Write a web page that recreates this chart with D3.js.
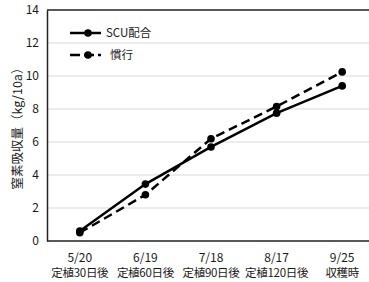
<!DOCTYPE html>
<html>
<head>
<meta charset="utf-8">
<script src="https://cdn.jsdelivr.net/npm/d3@7"></script>
<style>
  body { margin: 0; background: #fff; }
  text { font-family: "Liberation Sans Narrow", "Noto Sans CJK JP", sans-serif; fill: #1a1a1a; }
</style>
</head>
<body>
<script>
var dates = ["5/20", "6/19", "7/18", "8/17", "9/25"];
var stages = ["定植30日後", "定植60日後", "定植90日後", "定植120日後", "収穫時"];
var scuValues = [0.6, 3.45, 5.7, 7.75, 9.4];
var kankoValues = [0.5, 2.8, 6.2, 8.15, 10.25];
var yTicks = [0, 2, 4, 6, 8, 10, 12, 14];

var width = 369, height = 282;
var margin = {top: 10, right: -6, bottom: 41, left: 47};

var svg = d3.select("body").append("svg")
    .attr("width", width)
    .attr("height", height);

var x = d3.scalePoint()
    .domain(dates)
    .range([margin.left, width - margin.right])
    .padding(0.5);

var y = d3.scaleLinear()
    .domain([0, 14])
    .range([height - margin.bottom, margin.top]);

// gridlines
svg.append("g")
    .selectAll("line")
    .data(yTicks.slice(1, -1))
    .join("line")
    .attr("x1", margin.left)
    .attr("x2", width)
    .attr("y1", function(d) { return y(d); })
    .attr("y2", function(d) { return y(d); })
    .attr("stroke", "#d9d9d9")
    .attr("stroke-width", 1);

// top border
svg.append("line")
    .attr("x1", margin.left).attr("x2", width)
    .attr("y1", y(14)).attr("y2", y(14))
    .attr("stroke", "#222").attr("stroke-width", 1.5);

// y axis
var axisY = svg.append("g")
    .attr("transform", "translate(" + margin.left + ",0)")
    .call(d3.axisLeft(y).tickValues(yTicks).tickSize(0).tickPadding(8));
axisY.select(".domain").attr("stroke", "#222").attr("stroke-width", 1.5);
axisY.selectAll("text")
    .style("font-size", "12px")
    .style("font-family", '"Liberation Sans Narrow", "Noto Sans CJK JP", sans-serif')
    .attr("fill", "#1a1a1a");

// x axis
var axisX = svg.append("g")
    .attr("transform", "translate(0," + y(0) + ")")
    .call(d3.axisBottom(x).tickSize(0).tickPadding(0).tickFormat(""));
axisX.select(".domain").attr("d", "M" + margin.left + ",0H" + width)
    .attr("stroke", "#222").attr("stroke-width", 1.5);

svg.append("g").selectAll("text")
    .data(dates)
    .join("text")
    .attr("x", function(d) { return x(d); })
    .attr("y", y(0) + 21)
    .attr("text-anchor", "middle")
    .style("font-size", "12px")
    .text(function(d) { return d; });

svg.append("g").selectAll("text")
    .data(stages)
    .join("text")
    .attr("x", function(d, i) { return x(dates[i]); })
    .attr("y", y(0) + 36)
    .attr("text-anchor", "middle")
    .style("font-size", "11.5px")
    .style("letter-spacing", "-0.3px")
    .text(function(d) { return d; });

// y title
svg.append("text")
    .attr("transform", "translate(22," + ((y(0) + y(14)) / 2) + ") rotate(-90)")
    .attr("text-anchor", "middle")
    .style("font-size", "12.5px")
    .text("窒素吸収量（kg/10a）");

var line = d3.line()
    .x(function(d, i) { return x(dates[i]); })
    .y(function(d) { return y(d); });

function drawSeries(values, dash) {
    svg.append("path")
        .datum(values)
        .attr("d", line)
        .attr("fill", "none")
        .attr("stroke", "#000")
        .attr("stroke-width", 2.5)
        .attr("stroke-dasharray", dash);
    svg.append("g").selectAll("circle")
        .data(values)
        .join("circle")
        .attr("cx", function(d, i) { return x(dates[i]); })
        .attr("cy", function(d) { return y(d); })
        .attr("r", 3.8)
        .attr("fill", "#000");
}

drawSeries(kankoValues, "9,5");
drawSeries(scuValues, null);

// legend
var legend = [
    {name: "SCU配合", dash: null, tx: 36},
    {name: "慣行", dash: "10,4", tx: 40}
];
var lg = svg.append("g").selectAll("g")
    .data(legend)
    .join("g")
    .attr("transform", function(d, i) { return "translate(70," + (33 + i * 22) + ")"; });
lg.append("line")
    .attr("x1", 0).attr("x2", 31)
    .attr("stroke", "#000").attr("stroke-width", 2.5)
    .attr("stroke-dasharray", function(d) { return d.dash; });
lg.append("circle").attr("cx", 18).attr("r", 3.8).attr("fill", "#000");
lg.append("text")
    .attr("x", function(d) { return d.tx; })
    .attr("y", 4)
    .style("font-size", "11.5px")
    .text(function(d) { return d.name; });
</script>
</body>
</html>
